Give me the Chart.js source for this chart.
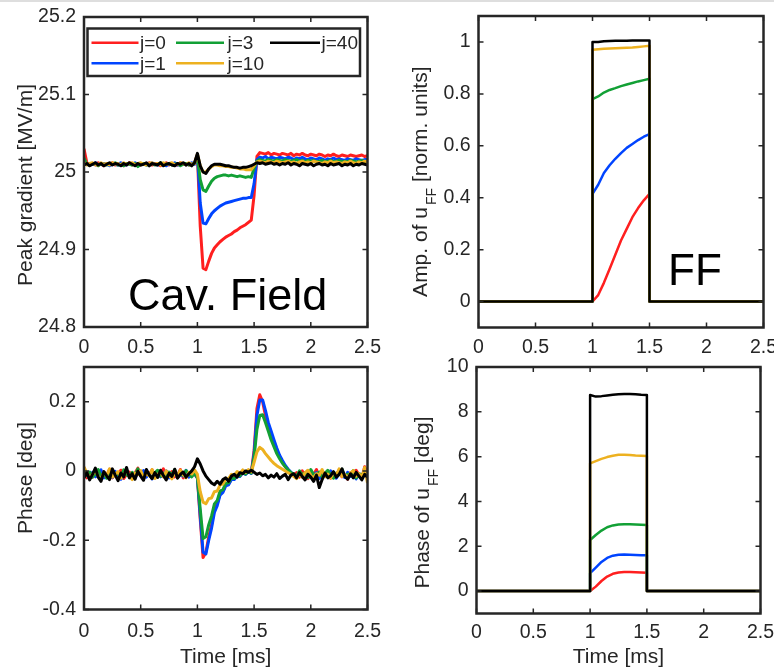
<!DOCTYPE html>
<html>
<head>
<meta charset="utf-8">
<script src="https://cdn.jsdelivr.net/npm/chart.js@4.4.0/dist/chart.umd.min.js"></script>
<style>
  body { margin: 0; background: #fff; }
  #wrap { position: relative; width: 774px; height: 668px; overflow: hidden; }
  #wrap canvas { position: absolute; left: 0; top: 0; }
  #topline { position: absolute; left: 0; top: 0; width: 774px; height: 2px; background: #dedede; }
</style>
</head>
<body>
<div id="wrap">
  <div id="topline"></div>
  <canvas id="cavAmp" width="774" height="668"></canvas>
  <canvas id="ffAmp" width="774" height="668"></canvas>
  <canvas id="cavPhase" width="774" height="668"></canvas>
  <canvas id="ffPhase" width="774" height="668"></canvas>
</div>
<script>
// iterations shown
const jLabels = ["j=0", "j=1", "j=3", "j=10", "j=40"];
const jColors = ["#ff1f1f", "#0044ff", "#12a035", "#edb120", "#000000"];

// axis ticks
const xTicks = [0, 0.5, 1, 1.5, 2, 2.5];
const gradTicks = [24.8, 24.9, 25, 25.1, 25.2];
const phaseTicks = [-0.4, -0.2, 0, 0.2];
const ffAmpTicks = [0, 0.2, 0.4, 0.6, 0.8, 1];
const ffPhaseTicks = [0, 2, 4, 6, 8, 10];

// measured time base [ms]
const time = [
  0, 0.025, 0.05, 0.075, 0.1, 0.125, 0.15, 0.175, 0.2, 0.225,
  0.25, 0.275, 0.3, 0.325, 0.35, 0.375, 0.4, 0.425, 0.45, 0.475,
  0.5, 0.525, 0.55, 0.575, 0.6, 0.625, 0.65, 0.675, 0.7, 0.725,
  0.75, 0.775, 0.8, 0.825, 0.85, 0.875, 0.9, 0.925, 0.95, 0.975,
  1, 1.025, 1.05, 1.075, 1.1, 1.125, 1.15, 1.175, 1.2, 1.225,
  1.25, 1.275, 1.3, 1.325, 1.35, 1.375, 1.4, 1.425, 1.45, 1.475,
  1.5, 1.525, 1.55, 1.575, 1.6, 1.625, 1.65, 1.675, 1.7, 1.725,
  1.75, 1.775, 1.8, 1.825, 1.85, 1.875, 1.9, 1.925, 1.95, 1.975,
  2, 2.025, 2.05, 2.075, 2.1, 2.125, 2.15, 2.175, 2.2, 2.225,
  2.25, 2.275, 2.3, 2.325, 2.35, 2.375, 2.4, 2.425, 2.45, 2.475,
  2.5
];

// cavity peak gradient [MV/m]
const gradJ0 = [
  25.030, 25.012, 25.010, 25.011, 25.009, 25.012, 25.010, 25.008, 25.011, 25.010,
  25.012, 25.009, 25.010, 25.011, 25.008, 25.010, 25.012, 25.009, 25.011, 25.010,
  25.009, 25.011, 25.010, 25.012, 25.009, 25.010, 25.011, 25.008, 25.010, 25.012,
  25.009, 25.011, 25.010, 25.009, 25.012, 25.010, 25.011, 25.009, 25.010, 25.012,
  25.022, 24.930, 24.876, 24.874, 24.885, 24.895, 24.902, 24.906, 24.910, 24.913,
  24.916, 24.918, 24.920, 24.923, 24.925, 24.928, 24.930, 24.932, 24.935, 24.938,
  24.970, 25.020, 25.025, 25.024, 25.023, 25.025, 25.022, 25.024, 25.023, 25.022,
  25.024, 25.023, 25.022, 25.024, 25.021, 25.023, 25.022, 25.024, 25.022, 25.021,
  25.023, 25.022, 25.021, 25.023, 25.022, 25.020, 25.022, 25.021, 25.023, 25.021,
  25.020, 25.022, 25.021, 25.020, 25.022, 25.021, 25.020, 25.021, 25.022, 25.020,
  25.021
];
const gradJ1 = [
  25.010, 25.011, 25.009, 25.010, 25.012, 25.009, 25.010, 25.011, 25.010, 25.008,
  25.011, 25.010, 25.009, 25.012, 25.010, 25.009, 25.011, 25.010, 25.012, 25.009,
  25.010, 25.011, 25.009, 25.010, 25.012, 25.010, 25.009, 25.011, 25.010, 25.008,
  25.011, 25.010, 25.012, 25.009, 25.010, 25.011, 25.009, 25.010, 25.012, 25.010,
  25.022, 24.960, 24.934, 24.933, 24.940, 24.946, 24.950, 24.953, 24.956, 24.958,
  24.960, 24.961, 24.962, 24.963, 24.964, 24.965, 24.966, 24.966, 24.967, 24.967,
  24.985, 25.016, 25.019, 25.018, 25.020, 25.017, 25.019, 25.018, 25.017, 25.019,
  25.018, 25.017, 25.019, 25.018, 25.016, 25.018, 25.017, 25.019, 25.017, 25.016,
  25.018, 25.017, 25.016, 25.018, 25.017, 25.015, 25.017, 25.016, 25.018, 25.016,
  25.017, 25.016, 25.015, 25.017, 25.016, 25.015, 25.017, 25.016, 25.015, 25.016,
  25.016
];
const gradJ3 = [
  25.018, 25.010, 25.009, 25.011, 25.010, 25.008, 25.011, 25.010, 25.009, 25.011,
  25.010, 25.012, 25.009, 25.010, 25.008, 25.011, 25.010, 25.009, 25.011, 25.007,
  25.010, 25.011, 25.009, 25.010, 25.011, 25.009, 25.010, 25.012, 25.009, 25.010,
  25.011, 25.009, 25.010, 25.011, 25.008, 25.010, 25.011, 25.009, 25.010, 25.011,
  25.020, 24.990, 24.977, 24.975, 24.982, 24.988, 24.992, 24.994, 24.995, 24.996,
  24.996, 24.995, 24.996, 24.995, 24.994, 24.995, 24.994, 24.993, 24.994, 24.993,
  25.005, 25.014, 25.016, 25.015, 25.014, 25.016, 25.015, 25.014, 25.016, 25.015,
  25.014, 25.016, 25.015, 25.014, 25.015, 25.016, 25.014, 25.015, 25.013, 25.015,
  25.014, 25.015, 25.013, 25.014, 25.015, 25.013, 25.014, 25.015, 25.013, 25.014,
  25.015, 25.013, 25.014, 25.013, 25.015, 25.014, 25.013, 25.014, 25.015, 25.013,
  25.014
];
const gradJ10 = [
  25.012, 25.009, 25.011, 25.012, 25.010, 25.009, 25.012, 25.010, 25.011, 25.009,
  25.012, 25.010, 25.011, 25.009, 25.012, 25.010, 25.011, 25.012, 25.009, 25.011,
  25.012, 25.010, 25.009, 25.011, 25.012, 25.010, 25.011, 25.009, 25.012, 25.010,
  25.011, 25.012, 25.009, 25.010, 25.012, 25.011, 25.009, 25.012, 25.010, 25.011,
  25.023, 25.008, 25.000, 25.000, 25.004, 25.007, 25.009, 25.009, 25.008, 25.008,
  25.007, 25.007, 25.006, 25.006, 25.005, 25.004, 25.004, 25.003, 25.003, 25.003,
  25.008, 25.013, 25.014, 25.013, 25.012, 25.014, 25.013, 25.012, 25.014, 25.013,
  25.012, 25.013, 25.014, 25.012, 25.013, 25.011, 25.013, 25.014, 25.012, 25.013,
  25.012, 25.014, 25.013, 25.012, 25.011, 25.013, 25.012, 25.014, 25.012, 25.013,
  25.012, 25.011, 25.013, 25.012, 25.014, 25.012, 25.011, 25.013, 25.012, 25.014,
  25.013
];
const gradJ40 = [
  25.009, 25.011, 25.008, 25.010, 25.012, 25.009, 25.011, 25.008, 25.010, 25.012,
  25.009, 25.011, 25.010, 25.008, 25.011, 25.009, 25.012, 25.010, 25.008, 25.011,
  25.009, 25.010, 25.012, 25.008, 25.011, 25.010, 25.009, 25.012, 25.008, 25.010,
  25.011, 25.009, 25.008, 25.011, 25.010, 25.012, 25.009, 25.011, 25.008, 25.012,
  25.024, 25.008, 25.000, 24.998, 25.004, 25.008, 25.010, 25.010, 25.010, 25.009,
  25.008, 25.008, 25.007, 25.006, 25.006, 25.005, 25.006, 25.006, 25.007, 25.008,
  25.010, 25.012, 25.011, 25.012, 25.010, 25.011, 25.012, 25.010, 25.011, 25.009,
  25.011, 25.010, 25.012, 25.009, 25.011, 25.010, 25.008, 25.011, 25.010, 25.009,
  25.011, 25.008, 25.010, 25.011, 25.009, 25.010, 25.008, 25.011, 25.009, 25.010,
  25.011, 25.008, 25.010, 25.009, 25.011, 25.008, 25.010, 25.009, 25.011, 25.010,
  25.009
];

// cavity phase [deg]
const phaseJ0 = [
  0.01, -0.02, -0.005, -0.018, 0, -0.012, -0.025, -0.003, -0.015, 0.005,
  -0.02, -0.008, -0.016, 0.002, -0.022, -0.01, -0.003, -0.018, -0.006, 0.008,
  -0.014, -0.024, -0.004, -0.011, 0.003, -0.019, -0.008, -0.015, 0.006, -0.021,
  -0.009, -0.002, -0.017, -0.012, 0.004, -0.02, -0.007, -0.014, -0.003, -0.01,
  -0.02, -0.14, -0.25, -0.235, -0.19, -0.155, -0.11, -0.095, -0.065, -0.058,
  -0.04, -0.038, -0.024, -0.022, -0.012, -0.015, -0.004, -0.009, 0, -0.006,
  0.06, 0.18, 0.22, 0.2, 0.16, 0.13, 0.105, 0.08, 0.06, 0.04,
  0.025, 0.012, 0.002, -0.006, -0.012, -0.005, -0.018, 0, -0.014, -0.022,
  -0.006, -0.011, 0.004, -0.019, -0.009, -0.016, -0.002, -0.021, -0.008, -0.013,
  0.003, -0.017, -0.01, -0.024, -0.005, -0.015, 0.002, -0.012, -0.02, 0.012,
  -0.008
];
const phaseJ1 = [
  -0.015, -0.008, -0.022, -0.004, -0.017, -0.01, 0.003, -0.02, -0.012, -0.006,
  -0.019, -0.001, -0.014, -0.024, -0.009, 0.002, -0.016, -0.011, -0.021, -0.005,
  -0.013, 0.001, -0.018, -0.008, -0.023, -0.012, -0.004, -0.017, -0.01, 0,
  -0.02, -0.013, -0.006, -0.019, -0.009, -0.015, 0.002, -0.018, -0.011, -0.007,
  -0.02, -0.13, -0.235, -0.24, -0.2, -0.165, -0.12, -0.1, -0.07, -0.062,
  -0.043, -0.04, -0.025, -0.025, -0.013, -0.016, -0.005, -0.01, -0.002, -0.007,
  0.05, 0.16, 0.205, 0.205, 0.175, 0.14, 0.115, 0.09, 0.066, 0.045,
  0.03, 0.016, 0.005, -0.004, -0.014, -0.02, -0.006, -0.017, -0.01, 0.001,
  -0.019, -0.012, -0.005, -0.022, -0.013, -0.008, -0.018, 0, -0.015, -0.021,
  -0.007, -0.012, -0.019, -0.004, -0.016, -0.01, -0.023, -0.008, -0.014, -0.005,
  -0.018
];
const phaseJ3 = [
  0.005, -0.012, -0.003, -0.018, -0.008, 0.004, -0.015, -0.006, -0.021, -0.01,
  0.001, -0.014, -0.007, -0.019, 0.003, -0.011, -0.016, -0.004, -0.013, 0.006,
  -0.009, -0.017, -0.002, -0.012, -0.02, -0.005, 0.002, -0.015, -0.008, -0.018,
  -0.003, -0.011, 0.004, -0.016, -0.007, -0.013, 0.001, -0.009, -0.017, -0.006,
  -0.02, -0.11, -0.195, -0.19, -0.155, -0.13, -0.095, -0.085, -0.058, -0.054,
  -0.036, -0.034, -0.02, -0.022, -0.01, -0.014, -0.003, -0.009, 0, -0.006,
  0.04, 0.12, 0.16, 0.162, 0.14, 0.115, 0.09, 0.07, 0.05, 0.035,
  0.022, 0.012, 0.003, -0.005, -0.009, -0.016, 0, -0.012, -0.005, -0.019,
  0.004, -0.01, -0.015, -0.003, -0.018, -0.007, 0.002, -0.013, -0.021, -0.006,
  -0.011, 0.005, -0.016, -0.009, -0.014, 0.001, -0.02, -0.008, -0.012, -0.004,
  -0.015
];
const phaseJ10 = [
  0.012, -0.006, -0.02, -0.01, 0.002, -0.016, -0.024, -0.004, -0.013, 0.006,
  -0.018, -0.009, -0.002, -0.021, -0.012, 0.003, -0.015, -0.025, -0.007, -0.011,
  0.001, -0.019, -0.008, -0.014, 0.004, -0.022, -0.01, -0.005, -0.017, 0,
  -0.013, -0.023, -0.006, -0.016, 0.002, -0.011, -0.02, -0.004, -0.009, 0.003,
  -0.01, -0.06, -0.09, -0.095, -0.08, -0.078, -0.06, -0.058, -0.04, -0.038,
  -0.024, -0.022, -0.01, -0.013, -0.002, -0.007, 0.003, -0.004, 0.004, -0.003,
  0.025, 0.055, 0.068, 0.062, 0.05, 0.04, 0.03, 0.022, 0.015, 0.01,
  0.005, 0, -0.005, -0.01, -0.016, -0.022, -0.01, -0.018, -0.005, 0.002,
  -0.014, -0.02, -0.008, -0.012, 0.004, -0.017, -0.009, -0.021, -0.004, -0.013,
  0.006, -0.016, -0.01, -0.019, -0.006, 0.001, -0.015, -0.008, -0.02, 0.01,
  -0.035
];
const phaseJ40 = [
  -0.02, -0.004, -0.026, -0.01, 0.008, -0.018, -0.03, -0.002, -0.014, -0.025,
  0.006, -0.012, -0.028, -0.006, -0.017, 0.01, -0.02, -0.008, -0.024, -0.001,
  -0.015, -0.027, 0.004, -0.011, -0.022, -0.005, -0.019, 0.002, -0.013, -0.026,
  -0.007, -0.016, 0.005, -0.021, -0.01, -0.003, -0.018, -0.008, 0, 0.012,
  0.035, 0.02, 0, -0.015, -0.025, -0.035, -0.04, -0.03, -0.038, -0.025,
  -0.02, -0.03, -0.015, -0.01, -0.018, -0.005, -0.008, 0, -0.004, 0.002,
  -0.004, -0.01, -0.006, -0.014, -0.01, -0.02, -0.012, -0.018, -0.008, -0.022,
  -0.015, -0.01, -0.025, -0.012, -0.008, -0.02, -0.005, -0.016, -0.026, -0.01,
  -0.018, -0.03, -0.012, -0.048, -0.025, -0.006, -0.02, -0.014, -0.002, -0.018,
  -0.01, 0.006, -0.016, -0.024, -0.008, -0.02, -0.004, -0.015, -0.026, -0.01,
  -0.018
];

// feed-forward pulse time base [ms] (edges at 1 and 1.5)
const ffTime = [0, 1, 1, 1.05, 1.1, 1.15, 1.2, 1.25, 1.3, 1.35, 1.4, 1.45, 1.5, 1.5, 2.5];

// FF amplitude [norm. units]
const ffAmpJ0 = [0, 0, 0, 0.025, 0.072, 0.125, 0.18, 0.235, 0.28, 0.325, 0.36, 0.39, 0.415, 0, 0];
const ffAmpJ1 = [0, 0, 0.415, 0.45, 0.495, 0.525, 0.55, 0.572, 0.592, 0.607, 0.622, 0.635, 0.645, 0, 0];
const ffAmpJ3 = [0, 0, 0.78, 0.79, 0.805, 0.815, 0.822, 0.83, 0.836, 0.842, 0.848, 0.853, 0.858, 0, 0];
const ffAmpJ10 = [0, 0, 0.97, 0.972, 0.974, 0.975, 0.976, 0.977, 0.978, 0.979, 0.981, 0.983, 0.985, 0, 0];
const ffAmpJ40 = [0, 0, 1.0, 1.0, 1.003, 1.004, 1.005, 1.005, 1.005, 1.006, 1.006, 1.006, 1.006, 0, 0];

// FF phase [deg]
const ffPhaseJ0 = [0, 0, 0, 0.2, 0.45, 0.65, 0.77, 0.83, 0.85, 0.85, 0.84, 0.83, 0.82, 0, 0];
const ffPhaseJ1 = [0, 0, 0.8, 1.05, 1.3, 1.48, 1.58, 1.62, 1.63, 1.62, 1.61, 1.6, 1.6, 0, 0];
const ffPhaseJ3 = [0, 0, 2.28, 2.5, 2.7, 2.85, 2.93, 2.97, 2.98, 2.98, 2.97, 2.96, 2.95, 0, 0];
const ffPhaseJ10 = [0, 0, 5.7, 5.8, 5.9, 5.98, 6.04, 6.08, 6.08, 6.07, 6.05, 6.04, 6.03, 0, 0];
const ffPhaseJ40 = [0, 0, 8.75, 8.68, 8.7, 8.73, 8.76, 8.78, 8.79, 8.79, 8.78, 8.76, 8.75, 0, 0];

const ink = "#262626";
const family = "'Liberation Sans', Arial, sans-serif";
const tickSize = 19.5;
const labelSize = 21;

// MATLAB-like box, inside ticks, axis labels, legend and panel note
const matlabFrame = {
  id: "matlabFrame",
  afterDatasetsDraw(chart, args, opts) {
    const { ctx, chartArea: a, scales } = chart;
    ctx.save();
    ctx.strokeStyle = ink;
    ctx.lineWidth = 1.5;
    ctx.beginPath();
    scales.x.ticks.forEach(t => {
      const px = scales.x.getPixelForValue(t.value);
      ctx.moveTo(px, a.bottom); ctx.lineTo(px, a.bottom - 5);
      ctx.moveTo(px, a.top); ctx.lineTo(px, a.top + 5);
    });
    scales.y.ticks.forEach(t => {
      const py = scales.y.getPixelForValue(t.value);
      ctx.moveTo(a.left, py); ctx.lineTo(a.left + 5, py);
      ctx.moveTo(a.right, py); ctx.lineTo(a.right - 5, py);
    });
    ctx.stroke();
    ctx.lineWidth = 2.5;
    ctx.strokeRect(a.left, a.top, a.right - a.left, a.bottom - a.top);

    ctx.fillStyle = ink;
    ctx.textBaseline = "alphabetic";

    // y label, possibly with a subscript part
    if (opts.yLabel) {
      const parts = opts.yLabel.parts;
      const widths = parts.map(p => {
        ctx.font = (p.sub ? 14 : labelSize) + "px " + family;
        return ctx.measureText(p.text).width + (p.sub ? 2 : 0);
      });
      const total = widths.reduce((s, w) => s + w, 0);
      ctx.save();
      ctx.translate(opts.yLabel.x, opts.yLabel.y);
      ctx.rotate(-Math.PI / 2);
      let cx = -total / 2;
      parts.forEach((p, i) => {
        ctx.font = (p.sub ? 14 : labelSize) + "px " + family;
        ctx.textAlign = "left";
        ctx.fillText(p.text, cx + (p.sub ? 2 : 0), p.sub ? 9 : 0);
        cx += widths[i];
      });
      ctx.restore();
    }

    if (opts.xLabel) {
      ctx.font = labelSize + "px " + family;
      ctx.textAlign = "center";
      ctx.fillText(opts.xLabel.text, (a.left + a.right) / 2, opts.xLabel.y);
    }

    if (opts.note) {
      ctx.fillStyle = "#000";
      ctx.font = opts.note.size + "px " + family;
      ctx.textAlign = "left";
      ctx.fillText(opts.note.text, opts.note.x, opts.note.y);
    }

    if (opts.legend) {
      const lg = opts.legend;
      ctx.fillStyle = "#fff";
      ctx.fillRect(lg.box[0], lg.box[1], lg.box[2] - lg.box[0], lg.box[3] - lg.box[1]);
      ctx.strokeStyle = ink;
      ctx.lineWidth = 2.5;
      ctx.strokeRect(lg.box[0], lg.box[1], lg.box[2] - lg.box[0], lg.box[3] - lg.box[1]);
      ctx.font = "19px " + family;
      ctx.textAlign = "left";
      ctx.textBaseline = "middle";
      chart.data.datasets.forEach((ds, k) => {
        const col = Math.floor(k / 2), row = k % 2;
        const y = lg.rows[row];
        ctx.strokeStyle = ds.borderColor;
        ctx.lineWidth = 2.5;
        ctx.beginPath();
        ctx.moveTo(lg.lineX[col][0], y);
        ctx.lineTo(lg.lineX[col][1], y);
        ctx.stroke();
        ctx.fillStyle = ink;
        ctx.fillText(ds.label, lg.textX[col], y + 1);
      });
    }
    ctx.restore();
  }
};

function makePanel(id, p) {
  const datasets = p.series.map((vals, k) => ({
    label: jLabels[k],
    data: p.x.map((t, i) => ({ x: t, y: vals[i] })),
    borderColor: jColors[k],
    backgroundColor: jColors[k],
    borderWidth: p.lineWidth,
    borderJoinStyle: "round",
    pointRadius: 0,
    tension: 0,
    order: p.series.length - 1 - k
  }));
  const yAxisW = 60, xAxisH = 40;
  return new Chart(document.getElementById(id), {
    type: "line",
    data: { datasets: datasets },
    plugins: [matlabFrame],
    options: {
      responsive: false,
      animation: false,
      events: [],
      layout: {
        padding: {
          left: p.area.l - yAxisW,
          top: p.area.t,
          right: 774 - p.area.r,
          bottom: 668 - p.area.b - xAxisH
        }
      },
      scales: {
        x: {
          type: "linear",
          min: 0,
          max: 2.5,
          afterBuildTicks: s => { s.ticks = xTicks.map(v => ({ value: v })); },
          afterFit: s => { s.height = xAxisH; s.paddingLeft = 0; s.paddingRight = 0; },
          grid: { display: false, drawTicks: false },
          border: { display: false },
          ticks: {
            padding: p.xPad,
            color: ink,
            font: { family: family, size: tickSize },
            maxRotation: 0,
            autoSkip: false,
            callback: v => String(v)
          }
        },
        y: {
          type: "linear",
          min: p.yMin,
          max: p.yMax,
          afterBuildTicks: s => { s.ticks = p.yTicks.map(v => ({ value: v })); },
          afterFit: s => { s.width = yAxisW; s.paddingTop = 0; s.paddingBottom = 0; },
          grid: { display: false, drawTicks: false },
          border: { display: false },
          ticks: {
            padding: 8,
            color: ink,
            font: { family: family, size: tickSize },
            autoSkip: false,
            callback: v => String(v)
          }
        }
      },
      plugins: {
        legend: { display: false },
        tooltip: { enabled: false },
        matlabFrame: p.frame
      }
    }
  });
}

makePanel("cavAmp", {
  x: time,
  series: [gradJ0, gradJ1, gradJ3, gradJ10, gradJ40],
  yMin: 24.8, yMax: 25.2, yTicks: gradTicks,
  area: { l: 84, r: 367.5, t: 17, b: 327 },
  xPad: 9, lineWidth: 3,
  frame: {
    yLabel: { x: 31.5, y: 185, parts: [{ text: "Peak gradient [MV/m]" }] },
    note: { text: "Cav. Field", x: 128, y: 310, size: 45 },
    legend: {
      box: [87.5, 28.5, 360, 76],
      rows: [42.7, 63.3],
      lineX: [[91.5, 138.5], [176, 224], [270, 320]],
      textX: [140, 227.5, 321.5]
    }
  }
});

makePanel("ffAmp", {
  x: ffTime,
  series: [ffAmpJ0, ffAmpJ1, ffAmpJ3, ffAmpJ10, ffAmpJ40],
  yMin: -0.1, yMax: 1.1, yTicks: ffAmpTicks,
  area: { l: 478.5, r: 763.5, t: 16, b: 327.5 },
  xPad: 8, lineWidth: 2.5,
  frame: {
    yLabel: { x: 427, y: 181.7, parts: [{ text: "Amp. of u" }, { text: "FF", sub: true }, { text: " [norm. units]" }] },
    note: { text: "FF", x: 668, y: 285, size: 44 }
  }
});

makePanel("cavPhase", {
  x: time,
  series: [phaseJ0, phaseJ1, phaseJ3, phaseJ10, phaseJ40],
  yMin: -0.4, yMax: 0.3, yTicks: phaseTicks,
  area: { l: 84, r: 367.5, t: 367, b: 609.5 },
  xPad: 10, lineWidth: 3,
  frame: {
    yLabel: { x: 31.5, y: 478, parts: [{ text: "Phase [deg]" }] },
    xLabel: { text: "Time [ms]", y: 663 }
  }
});

makePanel("ffPhase", {
  x: ffTime,
  series: [ffPhaseJ0, ffPhaseJ1, ffPhaseJ3, ffPhaseJ10, ffPhaseJ40],
  yMin: -1, yMax: 10, yTicks: ffPhaseTicks,
  area: { l: 476.5, r: 760.5, t: 367, b: 613.5 },
  xPad: 7, lineWidth: 2.5,
  frame: {
    yLabel: { x: 428.5, y: 502.5, parts: [{ text: "Phase of u" }, { text: "FF", sub: true }, { text: " [deg]" }] },
    xLabel: { text: "Time [ms]", y: 663 }
  }
});
</script>
</body>
</html>
